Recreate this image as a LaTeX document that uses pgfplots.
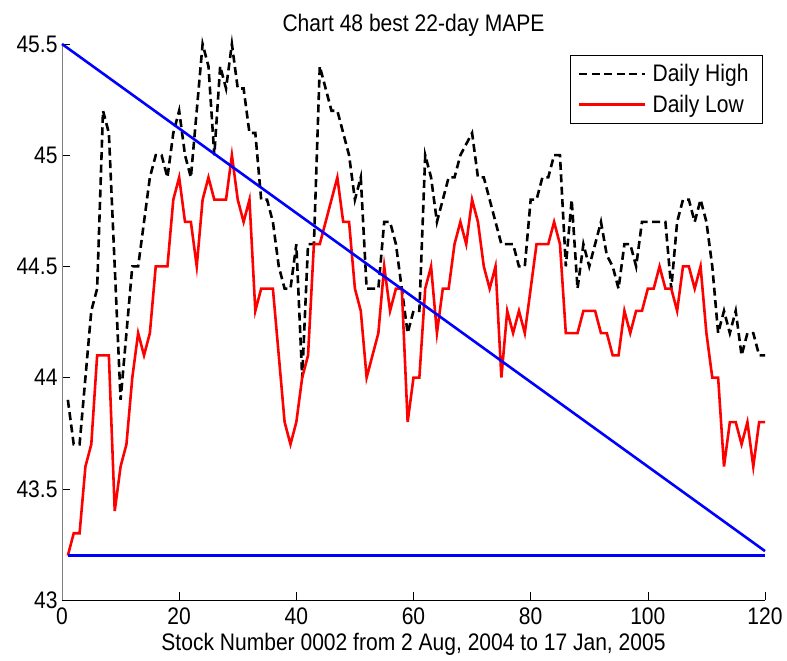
\documentclass[border=0pt]{standalone}
\usepackage{pgfplots}
\pgfplotsset{compat=1.18}
\usepackage{pgfplotstable}
\usepackage{fontspec}
\setmainfont[FakeStretch=0.88]{Liberation Sans}

\pgfplotstableread{
x high low
1 43.9 43.2
2 43.7 43.3
3 43.7 43.3
4 44.0 43.6
5 44.3 43.7
6 44.4 44.1
7 45.2 44.1
8 45.1 44.1
9 44.5 43.4
10 43.9 43.6
11 44.2 43.7
12 44.5 44.0
13 44.5 44.2
14 44.7 44.1
15 44.9 44.2
16 45.0 44.5
17 45.0 44.5
18 44.9 44.5
19 45.1 44.8
20 45.2 44.9
21 45.0 44.7
22 44.9 44.7
23 45.2 44.5
24 45.5 44.8
25 45.4 44.9
26 45.0 44.8
27 45.4 44.8
28 45.3 44.8
29 45.5 45.0
30 45.3 44.8
31 45.3 44.7
32 45.1 44.8
33 45.1 44.3
34 44.8 44.4
35 44.8 44.4
36 44.7 44.4
37 44.5 44.1
38 44.4 43.8
39 44.4 43.7
40 44.6 43.8
41 44.0 44.0
42 44.6 44.1
43 44.6 44.6
44 45.4 44.6
45 45.3 44.7
46 45.2 44.8
47 45.2 44.9
48 45.1 44.7
49 45.0 44.7
50 44.8 44.4
51 44.9 44.3
52 44.4 44.0
53 44.4 44.1
54 44.4 44.2
55 44.7 44.5
56 44.7 44.3
57 44.6 44.4
58 44.4 44.4
59 44.2 43.8
60 44.3 44.0
61 44.3 44.0
62 45.0 44.4
63 44.9 44.5
64 44.7 44.2
65 44.8 44.4
66 44.9 44.4
67 44.9 44.6
68 45.0 44.7
69 45.05 44.6
70 45.1 44.8
71 44.9 44.7
72 44.9 44.5
73 44.8 44.4
74 44.7 44.5
75 44.6 44.0
76 44.6 44.3
77 44.6 44.2
78 44.5 44.3
79 44.5 44.2
80 44.8 44.4
81 44.8 44.6
82 44.9 44.6
83 44.9 44.6
84 45.0 44.7
85 45.0 44.6
86 44.5 44.2
87 44.8 44.2
88 44.4 44.2
89 44.6 44.3
90 44.5 44.3
91 44.6 44.3
92 44.7 44.2
93 44.55 44.2
94 44.5 44.1
95 44.4 44.1
96 44.6 44.3
97 44.6 44.2
98 44.5 44.3
99 44.7 44.3
100 44.7 44.4
101 44.7 44.4
102 44.7 44.5
103 44.7 44.4
104 44.4 44.4
105 44.7 44.3
106 44.8 44.5
107 44.8 44.5
108 44.7 44.4
109 44.8 44.5
110 44.7 44.2
111 44.5 44.0
112 44.2 44.0
113 44.3 43.6
114 44.2 43.8
115 44.3 43.8
116 44.1 43.7
117 44.2 43.8
118 44.2 43.6
119 44.1 43.8
120 44.1 43.8
}\stock

\begin{document}
\begin{tikzpicture}[font=\fontsize{24}{28}\selectfont]
\begin{axis}[
  width=703bp, height=556bp, scale only axis,
  xmin=0, xmax=120, ymin=43, ymax=45.5,
  axis x line=bottom, axis y line=left,
  axis line style={-, line width=0.8pt},
  x axis line style={black},
  y axis line style={gray},
  xtick={0,20,...,120},
  ytick={43,43.5,44,44.5,45,45.5},
  tick align=inside,
  major tick length=8bp,
  tick style={black, line width=0.6pt},
  /pgf/number format/assume math mode=true,
  yticklabel style={/pgf/number format/fixed, /pgf/number format/precision=1, xshift=-1bp},
  xticklabel style={yshift=-4bp},
  title style={yshift=-2bp},
  title={Chart 48 best 22-day MAPE},
  xlabel={Stock Number 0002 from 2 Aug, 2004 to 17 Jan, 2005},
  xlabel style={yshift=-2bp},
  clip=false,
  legend style={at={(0.997,0.98)}, anchor=north east, draw=black, line width=0.8pt,
    font=\fontsize{24}{28}\selectfont, inner xsep=8bp, inner ysep=7bp, row sep=8bp,
    nodes={inner xsep=6bp}},
  legend cell align=left,
  legend image code/.code={\draw[#1] (0bp,0bp) -- (66bp,0bp);},
]
\addplot[black, line width=2.6pt, dash pattern=on 8pt off 4.5pt] table[x=x, y=high] {\stock};
\addlegendentry{Daily High}
\addplot[red, line width=2.6pt] table[x=x, y=low] {\stock};
\addlegendentry{Daily Low}
\addplot[blue, line width=2.6pt, forget plot] coordinates {(0,45.5) (120,43.22)};
\addplot[blue, line width=2.6pt, forget plot] coordinates {(1,43.2) (120,43.2)};
\end{axis}
\pgfresetboundingbox
\path ([shift={(-62bp,-61bp)}]current axis.south west) rectangle ([shift={(22bp,44bp)}]current axis.north east);
\end{tikzpicture}
\end{document}
